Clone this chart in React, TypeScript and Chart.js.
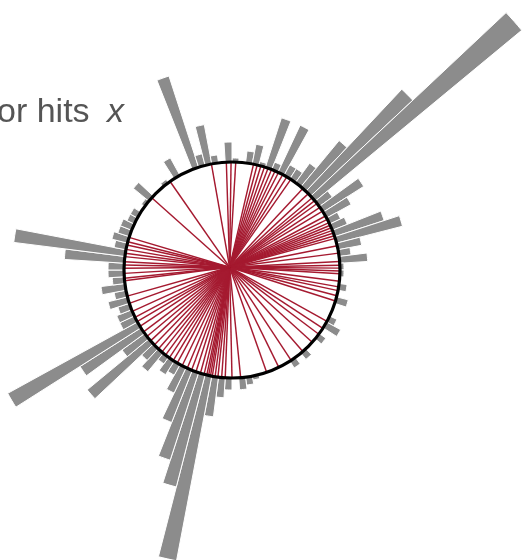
import { useEffect, useRef } from "react";
import { Chart, registerables } from "chart.js";

Chart.register(...registerables);

// Hits per 3.6° sector, clockwise from north (100 sectors).
const hits: number[] = [
  1, 0, 3, 5, 1, 13, 2, 13, 3, 3,
  6, 15, 35, 67, 4, 12, 7, 3, 4, 13,
  17, 6, 3, 7, 1, 1, 0, 2, 0, 3,
  0, 0, 2, 4, 0, 2, 0, 0, 2, 0,
  2, 0, 0, 0, 0, 0, 1, 2, 3, 0,
  3, 5, 10, 47, 29, 23, 14, 7, 3, 4,
  2, 6, 4, 20, 7, 18, 37, 4, 4, 3,
  5, 3, 6, 3, 4, 4, 15, 28, 3, 4,
  3, 3, 2, 2, 0, 1, 5, 0, 0, 1,
  0, 5, 0, 0, 24, 3, 10, 2, 0, 5,
];

const SECTOR_DEG = 360 / hits.length;
const sectorLabels: string[] = hits.map((_, i) => `${(i * SECTOR_DEG).toFixed(1)}°`);

// Bearings (degrees clockwise from north) where individual tracks meet the ring.
const strikesNorthEast: number[] = [
  2, 11.5, 13.5, 15.5, 17.5, 19.5, 21.5, 23.5, 25.5, 28, 30.5, 33,
  41, 45, 48, 50, 52, 54.5, 57, 60, 62, 64, 65.5, 67, 68.5, 70, 71.5, 73, 77, 81, 85.5, 87.5, 89,
];
const strikesSouthEast: number[] = [
  90.5, 92, 96, 99, 101, 103.8, 106.7, 118.4, 122.7, 126.5, 132, 139, 146.8, 154.3, 161.3, 175.4,
];
const strikesSouthWest: number[] = [
  180, 183.6, 185.5, 187.5, 189, 190.5, 191.5, 192.5, 193.5, 195, 197, 199.5, 202, 204.5,
  207.5, 210.5, 213, 215.5, 218, 220.5, 223, 226, 229, 232, 235, 238.5, 241.5, 244, 247.5, 252, 256,
];
const strikesNorthWest: number[] = [
  264.3, 265.6, 268.2, 270.9, 272.7, 274.4, 277.1, 278.9, 281, 283.4, 285.2, 287.6,
  312, 325, 349, 357, 359.5,
];

// Ring radius and track origin, in hit units.
const RING = 27;
const HUB_EAST = -0.6;
const HUB_SOUTH = -0.7;
const R_MAX = 58;

const BAR_GRAY = "#8c8c8c";
const TRACK_RED = "#a51a30";

const ringPlugin = {
  id: "detectorRing",
  afterDatasetsDraw(chart: any) {
    const scale = chart.scales.r;
    const cx = scale.xCenter;
    const cy = scale.yCenter;
    const unit = scale.getDistanceFromCenterForValue(1) - scale.getDistanceFromCenterForValue(0);
    const ringPx = scale.getDistanceFromCenterForValue(RING);
    const ctx: CanvasRenderingContext2D = chart.ctx;
    ctx.save();

    ctx.beginPath();
    ctx.arc(cx, cy, ringPx, 0, Math.PI * 2);
    ctx.fillStyle = "#ffffff";
    ctx.fill();

    const hx = cx + HUB_EAST * unit;
    const hy = cy + HUB_SOUTH * unit;
    ctx.strokeStyle = TRACK_RED;
    ctx.lineWidth = 1.45;
    const all = [...strikesNorthEast, ...strikesSouthEast, ...strikesSouthWest, ...strikesNorthWest];
    for (const deg of all) {
      const t = (deg * Math.PI) / 180;
      ctx.beginPath();
      ctx.moveTo(hx, hy);
      ctx.lineTo(cx + Math.sin(t) * ringPx, cy - Math.cos(t) * ringPx);
      ctx.stroke();
    }

    ctx.beginPath();
    ctx.arc(cx, cy, ringPx, 0, Math.PI * 2);
    ctx.lineWidth = 3.2;
    ctx.strokeStyle = "#000000";
    ctx.stroke();
    ctx.restore();
  },
};

export default function App() {
  const canvasRef = useRef<HTMLCanvasElement | null>(null);

  useEffect(() => {
    const canvas = canvasRef.current;
    if (!canvas) return;
    const chart = new Chart(canvas, {
      type: "polarArea",
      data: {
        labels: sectorLabels,
        datasets: [
          {
            data: hits.map((h) => RING + h),
            backgroundColor: BAR_GRAY,
            borderColor: "#ffffff",
            borderWidth: 1,
          },
        ],
      },
      options: {
        animation: false,
        responsive: false,
        layout: { padding: { left: 0, right: 58, top: 0, bottom: 20 } },
        plugins: {
          legend: { display: false },
          tooltip: { enabled: false },
        },
        scales: {
          r: { display: false, min: 0, max: R_MAX, startAngle: 0 },
        },
      },
      plugins: [ringPlugin],
    } as any);
    return () => chart.destroy();
  }, []);

  return (
    <div
      style={{
        position: "fixed",
        left: 0,
        top: 0,
        width: 522,
        height: 560,
        overflow: "hidden",
        background: "#ffffff",
      }}
    >
      <canvas ref={canvasRef} width={522} height={560} style={{ width: 522, height: 560, display: "block" }} />
      <div
        style={{
          position: "absolute",
          left: -3,
          top: 93,
          fontFamily: "'Liberation Sans', Arial, sans-serif",
          fontSize: 34,
          lineHeight: "34px",
          color: "#555555",
          whiteSpace: "nowrap",
        }}
      >
        or hits
      </div>
      <div
        style={{
          position: "absolute",
          left: 107,
          top: 93,
          fontFamily: "'Liberation Sans', Arial, sans-serif",
          fontSize: 34,
          lineHeight: "34px",
          fontStyle: "italic",
          color: "#555555",
        }}
      >
        x
      </div>
    </div>
  );
}
